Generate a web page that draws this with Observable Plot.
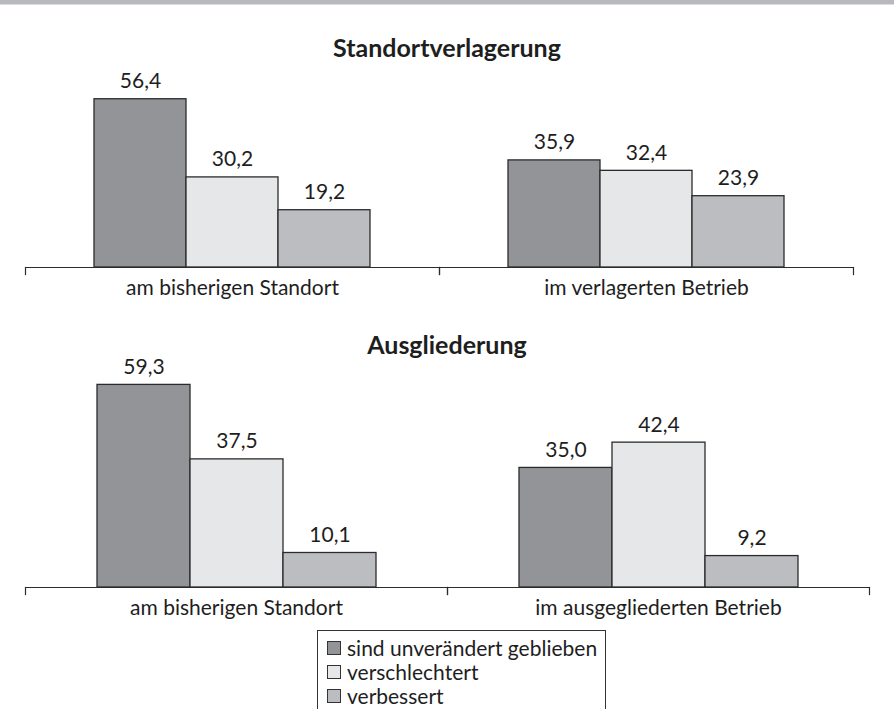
<!DOCTYPE html>
<html>
<head>
<meta charset="utf-8">
<script src="https://cdn.jsdelivr.net/npm/d3@7"></script>
<script src="https://cdn.jsdelivr.net/npm/@observablehq/plot@0.6"></script>
<style>
  html, body { margin: 0; padding: 0; background: #fff; }
  body { width: 894px; height: 709px; position: relative; overflow: hidden; font-family: "Lato", sans-serif; color: #1e1e1e; }
  #band { position: absolute; left: 0; top: 0; width: 894px; height: 4px; background: #b8b9bd; border-bottom: 1px solid #dcdde0; }
  .title { position: absolute; left: 0; width: 894px; text-align: center; font-weight: bold; font-size: 25px; line-height: 25px; z-index: 2; }
  .panel { position: absolute; left: 0; }
  .panel svg { background: transparent !important; overflow: visible; }
  #legend { position: absolute; left: 317px; top: 630px; width: 289px; height: 100px; border: 1px solid #333; box-sizing: border-box; padding-top: 5px; font-size: 21px; line-height: 24px; }
  #legend .item { display: flex; align-items: center; height: 24px; padding-left: 9px; }
  #legend .sw { width: 14px; height: 14px; border: 1px solid #333; box-sizing: border-box; margin-right: 6px; }
</style>
</head>
<body>
<div id="band"></div>
<div class="title" style="top:35px">Standortverlagerung</div>
<div class="panel" id="p1" style="top:60px"></div>
<div class="title" style="top:332px">Ausgliederung</div>
<div class="panel" id="p2" style="top:340px"></div>
<div id="legend"></div>
<script>
const series = ["sind unverändert geblieben", "verschlechtert", "verbessert"];
const colors = ["#939498", "#e6e7e9", "#bcbdc1"];

const cats1 = ["am bisherigen Standort", "im verlagerten Betrieb"];
const vals1 = [[56.4, 30.2, 19.2], [35.9, 32.4, 23.9]];

const cats2 = ["am bisherigen Standort", "im ausgegliederten Betrieb"];
const vals2 = [[59.3, 37.5, 10.1], [35.0, 42.4, 9.2]];

function rows(cats, vals) {
  const out = [];
  cats.forEach((c, i) => series.forEach((s, j) => out.push({cat: c, series: s, value: vals[i][j]})));
  return out;
}

function panel(cats, vals, opts) {
  const data = rows(cats, vals);
  const plotH = opts.height - opts.marginTop - opts.marginBottom;
  return Plot.plot({
    width: 894,
    height: opts.height,
    marginTop: opts.marginTop,
    marginBottom: opts.marginBottom,
    marginLeft: 24,
    marginRight: opts.marginRight,
    style: {fontFamily: "Lato", fontSize: "21px", background: "transparent", color: "#1e1e1e"},
    fx: {domain: cats, padding: 0, label: null},
    x: {domain: series, paddingInner: 0, paddingOuter: 0.75, axis: null},
    y: {domain: [0, 60], axis: null},
    color: {domain: series, range: colors},
    marks: [
      Plot.barY(data, {fx: "cat", x: "series", y: "value", fill: "series", stroke: "#2b2b2b", strokeWidth: 1.3}),
      Plot.ruleY([0], {stroke: "#2b2b2b", strokeWidth: 1.2}),
      Plot.frame({anchor: "left", insetTop: plotH, insetBottom: -7, stroke: "#2b2b2b", strokeWidth: 1.2}),
      Plot.frame({anchor: "right", insetTop: plotH, insetBottom: -7, stroke: "#2b2b2b", strokeWidth: 1.2}),
      Plot.text(data, {fx: "cat", x: "series", y: "value", text: d => d.value.toFixed(1).replace(".", ","), lineAnchor: "bottom", dy: -11, fontSize: 21, fill: "#1e1e1e"}),
      Plot.axisFx({anchor: "bottom", tickSize: 0, tickPadding: 13, fontSize: 21, label: null, fill: "#1e1e1e"})
    ]
  });
}

document.getElementById("p1").append(panel(cats1, vals1, {height: 247, marginTop: 28, marginBottom: 40, marginRight: 41}));
document.getElementById("p2").append(panel(cats2, vals2, {height: 287, marginTop: 42, marginBottom: 40, marginRight: 25}));

const legend = document.getElementById("legend");
series.forEach((s, i) => {
  const item = document.createElement("div");
  item.className = "item";
  const sw = document.createElement("span");
  sw.className = "sw";
  sw.style.background = colors[i];
  const t = document.createElement("span");
  t.textContent = s;
  item.append(sw, t);
  legend.append(item);
});
</script>
</body>
</html>
